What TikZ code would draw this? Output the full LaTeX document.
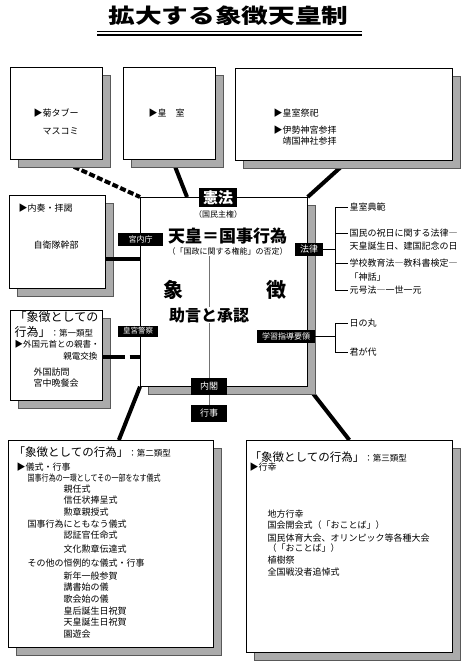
\documentclass[tikz,border=0pt]{standalone}
\usepackage{fontspec}
\setmainfont{Noto Sans CJK JP}
\usetikzlibrary{shadows}
\pgfdeclarelayer{bg}
\pgfsetlayers{bg,main}
\newcommand\myfs[1]{\fontsize{#1}{#1}\selectfont}
\begin{document}
\begin{tikzpicture}[x=1pt,y=-1pt,
  box/.style={draw=black, line width=0.7pt, fill=white, anchor=north west, inner sep=0pt,
    drop shadow={shadow xshift=8pt, shadow yshift=-8pt, fill=black!33, draw=black!65, line width=0.5pt, opacity=1}},
  txt/.style={anchor=west, inner sep=1.5pt, font=\myfs{9}},
  big/.style={inner sep=0pt, font=\bfseries},
  blab/.style={fill=black, text=white, inner sep=0pt, minimum height=13pt, font=\myfs{8.5}},
  conn/.style={line width=4pt},
  connd/.style={line width=4pt, dash pattern=on 6pt off 2.5pt},
  brk/.style={line width=0.6pt},
  vline/.style={line width=0.6pt, draw=black!55}
]
\useasboundingbox (0,0) rectangle (470,664);
\begin{pgfonlayer}{bg}
\fill[white] (0,0) rectangle (470,664);
\end{pgfonlayer}

% title
\node[big, font=\myfs{20.5}\bfseries] (title) at (228.5,16) {\scalebox{1.3}[1]{拡大する象徴天皇制}};
\draw[line width=0.8pt] (97,31) -- (362,31);
\draw[line width=2.6pt] (97,34.8) -- (362,34.8);

% boxes
\node[box, minimum width=92pt, minimum height=92pt] (kiku) at (10,67) {};
\node[box, minimum width=92pt, minimum height=92pt] (koshitsu) at (123,67) {};
\node[box, minimum width=217pt, minimum height=92pt] (saishi) at (235,68) {};
\node[box, minimum width=96pt, minimum height=93pt] (naiso) at (9,195) {};
\node[box, minimum width=92pt, minimum height=90pt] (rui1) at (10,310) {};
\node[box, minimum width=167pt, minimum height=189pt] (center) at (140,197) {};
\node[box, minimum width=205pt, minimum height=207pt] (rui2) at (8,440) {};
\node[box, minimum width=206pt, minimum height=212pt] (rui3) at (246,440) {};

% connectors behind
\begin{pgfonlayer}{bg}
\draw[connd] ([xshift=2pt]kiku.south) -- (center.north west);
\draw[conn] ([xshift=3pt]koshitsu.south) -- ([xshift=47pt]center.north west);
\draw[conn] ([xshift=4pt]saishi.south) -- (center.north east);
\draw[conn] (center.south west) -- ([xshift=8pt]rui2.north);
\draw[conn] (center.south east) -- (rui3.north);
\end{pgfonlayer}
\draw[conn] (naiso.east |- 0,259) -- (center.west |- 0,259);
\draw[conn, dash pattern=on 22pt off 5pt] (rui1.east |- 0,357) -- (center.west |- 0,357);

% top box texts
\node[txt] (k1) at (32,113) {▶菊タブー};
\node[txt] (k2) at (41,131) {マスコミ};
\node[txt] (s0) at (147,113) {▶皇　室};
\node[txt] (s1) at (272,113) {▶皇室祭祀};
\node[txt] (s2) at (272,130) {▶伊勢神宮参拝};
\node[txt] (s3) at (281,141) {靖国神社参拝};

% left boxes
\node[txt] (n1) at (17,208) {▶内奏・拝謁};
\node[txt] (n2) at (32,245) {自衛隊幹部};
\node[txt, font=\myfs{12}] (a1) at (13,317) {「象徴としての};
\node[txt, font=\myfs{12}] (a2) at (13,332) {行為」{\myfs{8.5}：第一類型}};
\node[txt, font=\myfs{8.5}] (a3) at (13,344) {▶外国元首との親書・};
\node[txt, font=\myfs{8.5}, anchor=east] (a4) at (99,356) {親電交換};
\node[txt] (a5) at (32,372) {外国訪問};
\node[txt] (a6) at (32,383) {宮中晩餐会};

% center box contents
\coordinate (vl) at (209,256);
\draw[vline] (vl) -- (vl |- 0,405);
\node[inner sep=0pt, font=\myfs{8}] (shuken) at (218,214) {（国民主権）};
\node[big, font=\myfs{17}\bfseries] (kokuji) at (227.5,236) {天皇＝国事行為};
\node[inner sep=0pt, font=\myfs{8}] (hitei) at (227.5,251) {（「国政に関する権能」の否定）};
\node[big, font=\myfs{20}\bfseries] (sho) at (173,290) {象};
\node[big, font=\myfs{20}\bfseries] (cho) at (276,290) {徴};
\node[big, font=\myfs{16}\bfseries, fill=white] (jogen) at (209,315) {助言と承認};

% black labels
\node[blab, minimum width=38pt, minimum height=19pt, font=\myfs{15}\bfseries] (kenpo) at (218,197.5) {憲法};
\node[blab, minimum width=45pt, font=\myfs{8}] (kunai) at (140.5,239.5) {宮内庁};
\node[blab, minimum width=40pt, minimum height=11pt, font=\myfs{7.5}] (kogu) at (138,331) {皇宮警察};
\node[blab, minimum width=36pt, minimum height=17pt, font=\myfs{9}] (naikaku) at (209,386) {内閣};
\node[blab, minimum width=36pt, minimum height=17pt, font=\myfs{9}] (gyoji) at (209,413.5) {行事};
\node[blab, minimum width=28pt, font=\myfs{9}] (horitsu) at (309,249.5) {法律};
\node[blab, minimum width=58pt, font=\myfs{8}] (gakushu) at (286,336.5) {学習指導要領};

% right side texts
\node[txt] (r1) at (348,207) {皇室典範};
\node[txt] (r2) at (348,233) {国民の祝日に関する法律―};
\node[txt] (r2b) at (348,246) {天皇誕生日、建国記念の日};
\node[txt] (r3) at (348,263) {学校教育法―教科書検定―};
\node[txt] (r3b) at (348,277) {「神話」};
\node[txt] (r4) at (348,290) {元号法―一世一元};
\node[txt] (r5) at (348,323) {日の丸};
\node[txt] (r6) at (348,352) {君が代};

\coordinate (hb) at (335,249.5);
\draw[brk] (horitsu.east) -- (hb);
\draw[brk] (hb |- r1.west) -- (hb |- r4.west);
\foreach \n in {r1,r2,r3,r4} \draw[brk] (hb |- \n.west) -- (\n.west);
\coordinate (gb) at (335,336.5);
\draw[brk] (gakushu.east) -- (gb);
\draw[brk] (gb |- r5.west) -- (gb |- r6.west);
\foreach \n in {r5,r6} \draw[brk] (gb |- \n.west) -- (\n.west);

% bottom-left box
\node[txt, font=\myfs{11.5}] (b0) at (12,452) {「象徴としての行為」{\myfs{8.5}：第二類型}};
\node[txt] (b1) at (15,467) {▶儀式・行事};
\node[txt] (b2) at (26,478) {\scalebox{0.78}[1]{国事行為の一環としてその一部をなす儀式}};
\node[txt] (b3) at (62,489) {親任式};
\node[txt] (b4) at (62,500) {信任状捧呈式};
\node[txt] (b5) at (62,512) {勲章親授式};
\node[txt] (b6) at (26,524) {国事行為にともなう儀式};
\node[txt] (b7) at (62,535) {認証官任命式};
\node[txt] (b8) at (62,549) {文化勲章伝達式};
\node[txt] (b9) at (26,563) {その他の恒例的な儀式・行事};
\node[txt] (b10) at (62,576) {新年一般参賀};
\node[txt] (b11) at (62,587) {講書始の儀};
\node[txt] (b12) at (62,599) {歌会始の儀};
\node[txt] (b13) at (62,611) {皇后誕生日祝賀};
\node[txt] (b14) at (62,622) {天皇誕生日祝賀};
\node[txt] (b15) at (62,634) {園遊会};

% bottom-right box
\node[txt, font=\myfs{11.5}] (c0) at (248,457) {「象徴としての行為」{\myfs{8.5}：第三類型}};
\node[txt] (c1) at (248,467) {▶行幸};
\node[txt] (c2) at (266,514) {地方行幸};
\node[txt] (c3) at (266,525) {国会開会式（「おことば」）};
\node[txt] (c4) at (266,538) {国民体育大会、オリンピック等各種大会};
\node[txt] (c5) at (266,548) {（「おことば」）};
\node[txt] (c6) at (266,560) {植樹祭};
\node[txt] (c7) at (266,572) {全国戦没者追悼式};
\end{tikzpicture}
\end{document}
